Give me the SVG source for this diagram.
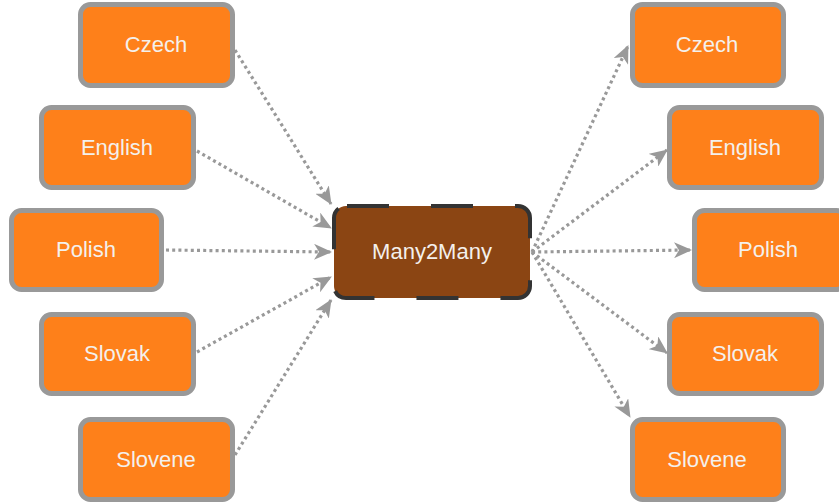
<svg xmlns="http://www.w3.org/2000/svg" width="839" height="504" viewBox="0 0 839 504">
<defs>
<style>
.box rect{fill:#fe801a;stroke:#999;stroke-width:5}
.box text,.hub text{font-family:"Liberation Sans",Arial,sans-serif;font-size:22px;fill:#f4f0ec;text-anchor:middle}
.hub rect{fill:#8b4513;stroke:#333;stroke-width:4;stroke-dasharray:42 42;stroke-dashoffset:-1}
.edges path{fill:none;stroke:#999;stroke-width:3.2;stroke-dasharray:3 3.2;marker-end:url(#arr)}
</style>
<marker id="arr" markerUnits="userSpaceOnUse" markerWidth="18" markerHeight="16" refX="17" refY="8" orient="auto" viewBox="0 0 18 16">
<path d="M0,0 L18,8 L0,16 L5,8 z" fill="#999"/>
</marker>
</defs>
<g class="edges">
<path d="M235,50 L331,204"/>
<path d="M197,151 L331,228"/>
<path d="M166,250 L331,252"/>
<path d="M197,352 L331,277"/>
<path d="M235,455 L331,300"/>
<path d="M532,252 L628,46"/>
<path d="M532,252 L667,150"/>
<path d="M532,252 L691,250"/>
<path d="M532,252 L667,353"/>
<path d="M532,252 L630,417"/>
</g>
<g id="hub" class="hub"><rect x="334" y="206" width="196" height="92" rx="12"/><text x="432" y="259">Many2Many</text></g>
<g id="l-czech" class="box"><rect x="80.5" y="4.5" width="152" height="81" rx="10"/><text x="156" y="52">Czech</text></g>
<g id="l-english" class="box"><rect x="41.5" y="107.5" width="152" height="80" rx="10"/><text x="117" y="155">English</text></g>
<g id="l-polish" class="box"><rect x="11.5" y="210.5" width="150" height="79" rx="10"/><text x="86" y="257">Polish</text></g>
<g id="l-slovak" class="box"><rect x="41.5" y="314.5" width="152" height="79" rx="10"/><text x="117" y="361">Slovak</text></g>
<g id="l-slovene" class="box"><rect x="80.5" y="419.5" width="152" height="80" rx="10"/><text x="156" y="467">Slovene</text></g>
<g id="r-czech" class="box"><rect x="632.5" y="4.5" width="151" height="81" rx="10"/><text x="707" y="52">Czech</text></g>
<g id="r-english" class="box"><rect x="669.5" y="107.5" width="152" height="80" rx="10"/><text x="745" y="155">English</text></g>
<g id="r-polish" class="box"><rect x="694.5" y="210.5" width="152" height="79" rx="10"/><text x="768" y="257">Polish</text></g>
<g id="r-slovak" class="box"><rect x="669.5" y="314.5" width="152" height="79" rx="10"/><text x="745" y="361">Slovak</text></g>
<g id="r-slovene" class="box"><rect x="632.5" y="419.5" width="151" height="80" rx="10"/><text x="707" y="467">Slovene</text></g>
</svg>
